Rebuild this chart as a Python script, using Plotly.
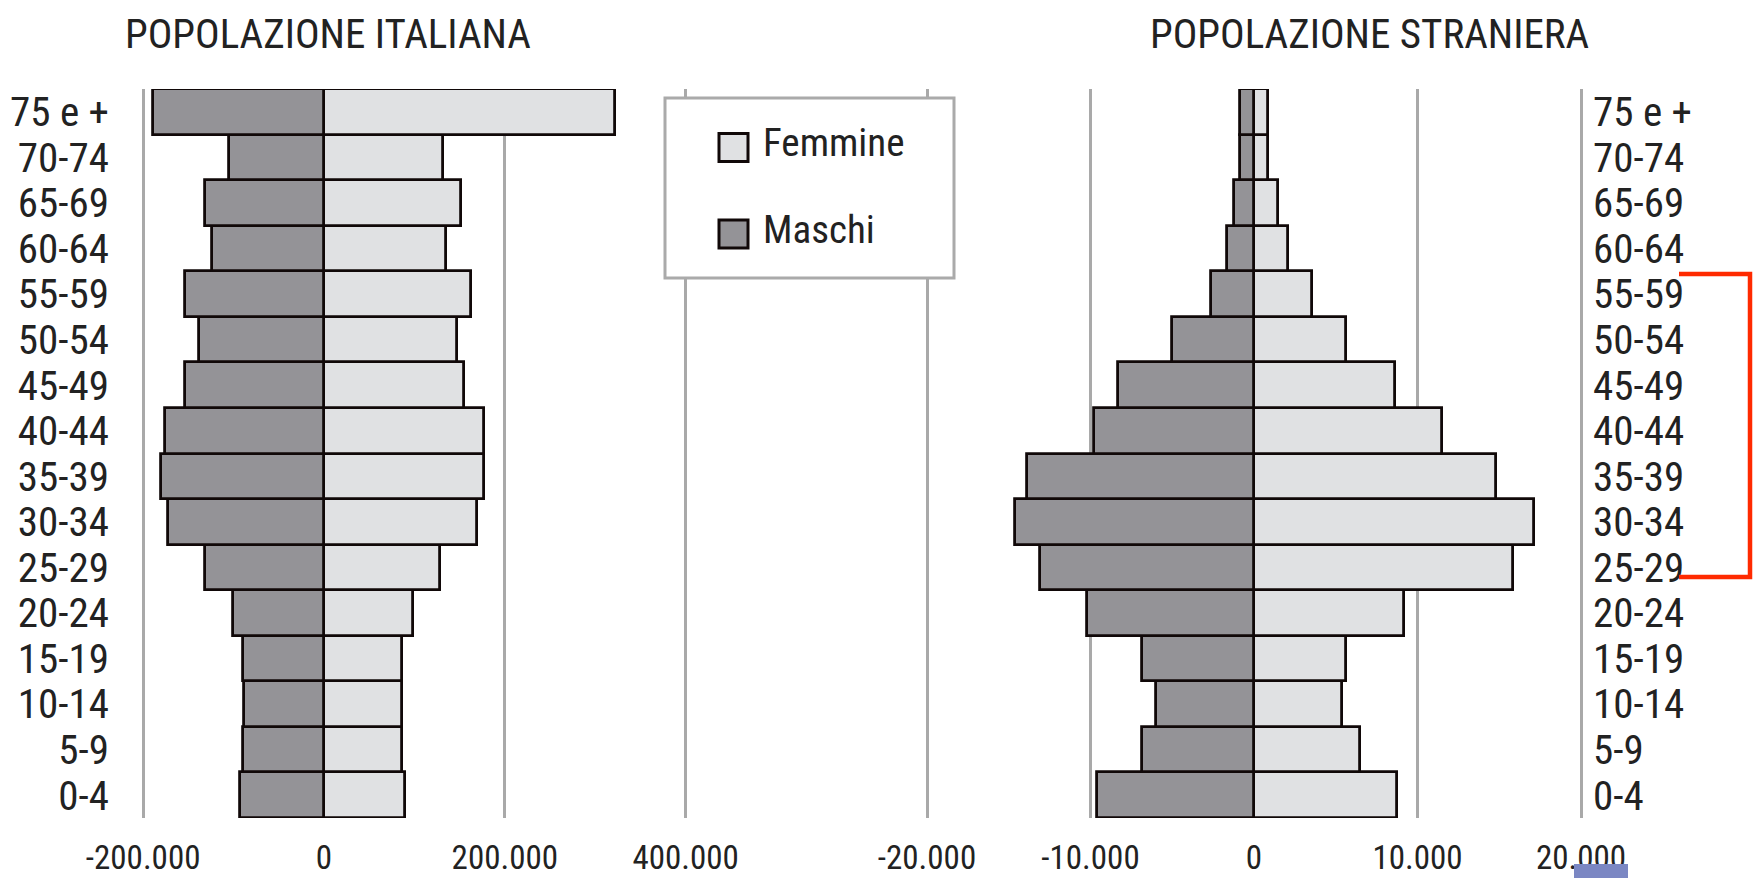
import plotly.graph_objects as go

# ---------------- data ----------------
age_groups = ["0-4", "5-9", "10-14", "15-19", "20-24", "25-29", "30-34", "35-39",
              "40-44", "45-49", "50-54", "55-59", "60-64", "65-69", "70-74", "75 e +"]

ita_maschi = [93000, 89500, 88500, 89500, 101000, 131500, 172500, 180500,
              176000, 154000, 138500, 154000, 124000, 132000, 105500, 189000]
ita_femmine = [90000, 86000, 86000, 86000, 98500, 128500, 169000, 177000,
               177000, 155000, 147000, 162500, 135000, 151000, 132000, 321500]

str_maschi = [9600, 6850, 6000, 6850, 10200, 13100, 14600, 13900,
              9800, 8300, 5000, 2650, 1650, 1250, 850, 850]
str_femmine = [8750, 6500, 5400, 5600, 9200, 15850, 17100, 14800,
               11500, 8600, 5600, 3550, 2100, 1450, 850, 850]

ita_ticks = [-200000, 0, 200000, 400000]
ita_ticktext = ["-200.000", "0", "200.000", "400.000"]
str_ticks = [-20000, -10000, 0, 10000, 20000]
str_ticktext = ["-20.000", "-10.000", "0", "10.000", "20.000"]

titles = ["POPOLAZIONE ITALIANA", "POPOLAZIONE STRANIERA"]
legend_labels = ["Femmine", "Maschi"]

# ---------------- style ----------------
W, H = 1753, 878
FONT = "Liberation Sans Narrow, Arial Narrow, Roboto Condensed, DejaVu Sans Condensed, sans-serif"
TXT = "#222222"
C_F = "#e0e1e3"
C_M = "#949397"
EDGE = "#100808"
GRID = "#a9a9a9"


def px(x):
    return x / W


def py(y):
    return 1 - y / H


# pixel geometry of the axes
top, bottom = 89, 818
L_dom = (118, 700)
L_zero, L_px_per = 324.0, (686 - 143.5) / 600000
R_dom = (900, 1588)
R_zero, R_px_per = 1254.0, 163.5 / 10000

L_range = [(L_dom[0] - L_zero) / L_px_per, (L_dom[1] - L_zero) / L_px_per]
R_range = [(R_dom[0] - R_zero) / R_px_per, (R_dom[1] - R_zero) / R_px_per]

fig = go.Figure()

line = dict(color=EDGE, width=2.8)
fig.add_trace(go.Bar(y=age_groups, x=ita_femmine, orientation="h", name="Femmine",
                     marker=dict(color=C_F, line=line), xaxis="x", yaxis="y", showlegend=False))
fig.add_trace(go.Bar(y=age_groups, x=[-v for v in ita_maschi], orientation="h", name="Maschi",
                     marker=dict(color=C_M, line=line), xaxis="x", yaxis="y", showlegend=False))
fig.add_trace(go.Bar(y=age_groups, x=str_femmine, orientation="h", name="Femmine",
                     marker=dict(color=C_F, line=line), xaxis="x2", yaxis="y2", showlegend=False))
fig.add_trace(go.Bar(y=age_groups, x=[-v for v in str_maschi], orientation="h", name="Maschi",
                     marker=dict(color=C_M, line=line), xaxis="x2", yaxis="y2", showlegend=False))

axis_font = dict(family=FONT, size=33, color=TXT)
cat_font = dict(family=FONT, size=41, color=TXT)

fig.update_layout(
    width=W, height=H,
    margin=dict(l=0, r=0, t=0, b=0, autoexpand=False),
    paper_bgcolor="white", plot_bgcolor="white",
    barmode="overlay", bargap=0,
    xaxis=dict(domain=[px(L_dom[0]), px(L_dom[1])], range=L_range,
               tickmode="array", tickvals=ita_ticks, ticktext=ita_ticktext, showgrid=True,
               gridcolor=GRID, gridwidth=2.5, zeroline=False, ticks="", automargin=False,
               tickfont=axis_font, ticklabelstandoff=17, anchor="y"),
    yaxis=dict(domain=[py(bottom), py(top)], showgrid=False, zeroline=False,
               ticks="", tickfont=cat_font, anchor="x", ticklabelstandoff=8, automargin=False,
               tickmode="array", tickvals=age_groups,
               categoryorder="array", categoryarray=age_groups),
    xaxis2=dict(domain=[px(R_dom[0]), px(R_dom[1])], range=R_range,
                tickmode="array", tickvals=str_ticks, ticktext=str_ticktext, showgrid=True,
                gridcolor=GRID, gridwidth=2.5, zeroline=False, ticks="", automargin=False,
                tickfont=axis_font, ticklabelstandoff=17, anchor="y2"),
    yaxis2=dict(domain=[py(bottom), py(top)], showgrid=False, zeroline=False,
                ticks="", tickfont=cat_font, anchor="x2", side="right", automargin=False,
                ticklabelstandoff=4, tickmode="array", tickvals=age_groups,
                categoryorder="array", categoryarray=age_groups),
)

# titles
for t, cx in zip(titles, (328, 1369)):
    fig.add_annotation(text=t, x=px(cx), y=py(34), xref="paper", yref="paper",
                       showarrow=False, xanchor="center", yanchor="middle",
                       font=dict(family=FONT, size=41, color=TXT))

shapes = []
# legend box (opaque, hides the gridlines behind)
shapes.append(dict(type="rect", xref="paper", yref="paper", layer="above",
                   x0=px(665), x1=px(954), y0=py(278), y1=py(98),
                   fillcolor="white", line=dict(color="#aaaaaa", width=3)))
for lab, col, cy in zip(legend_labels, (C_F, C_M), (147.5, 234)):
    shapes.append(dict(type="rect", xref="paper", yref="paper", layer="above",
                       x0=px(719), x1=px(748), y0=py(cy + 14), y1=py(cy - 14),
                       fillcolor=col, line=dict(color=EDGE, width=3)))
    fig.add_annotation(text=lab, x=px(761), y=py(cy - 4), xref="paper", yref="paper",
                       showarrow=False, xanchor="left", yanchor="middle",
                       font=dict(family=FONT, size=39, color=TXT))

# red bracket on the right
shapes.append(dict(type="path", xref="paper", yref="paper", layer="above",
                   path=f"M {px(1679)},{py(274)} L {px(1750)},{py(274)} L {px(1750)},{py(577)} L {px(1679)},{py(577)}",
                   line=dict(color="#ff2a00", width=4.5)))
# small blue block at the bottom
shapes.append(dict(type="rect", xref="paper", yref="paper", layer="above",
                   x0=px(1574), x1=px(1628), y0=py(878), y1=py(864),
                   fillcolor="#7b87c3", line=dict(width=0)))

fig.update_layout(shapes=shapes)

fig.write_html(
    "out.html",
    config={"displayModeBar": False},
    post_script="document.body.style.margin='0';document.body.style.overflow='hidden';",
)
